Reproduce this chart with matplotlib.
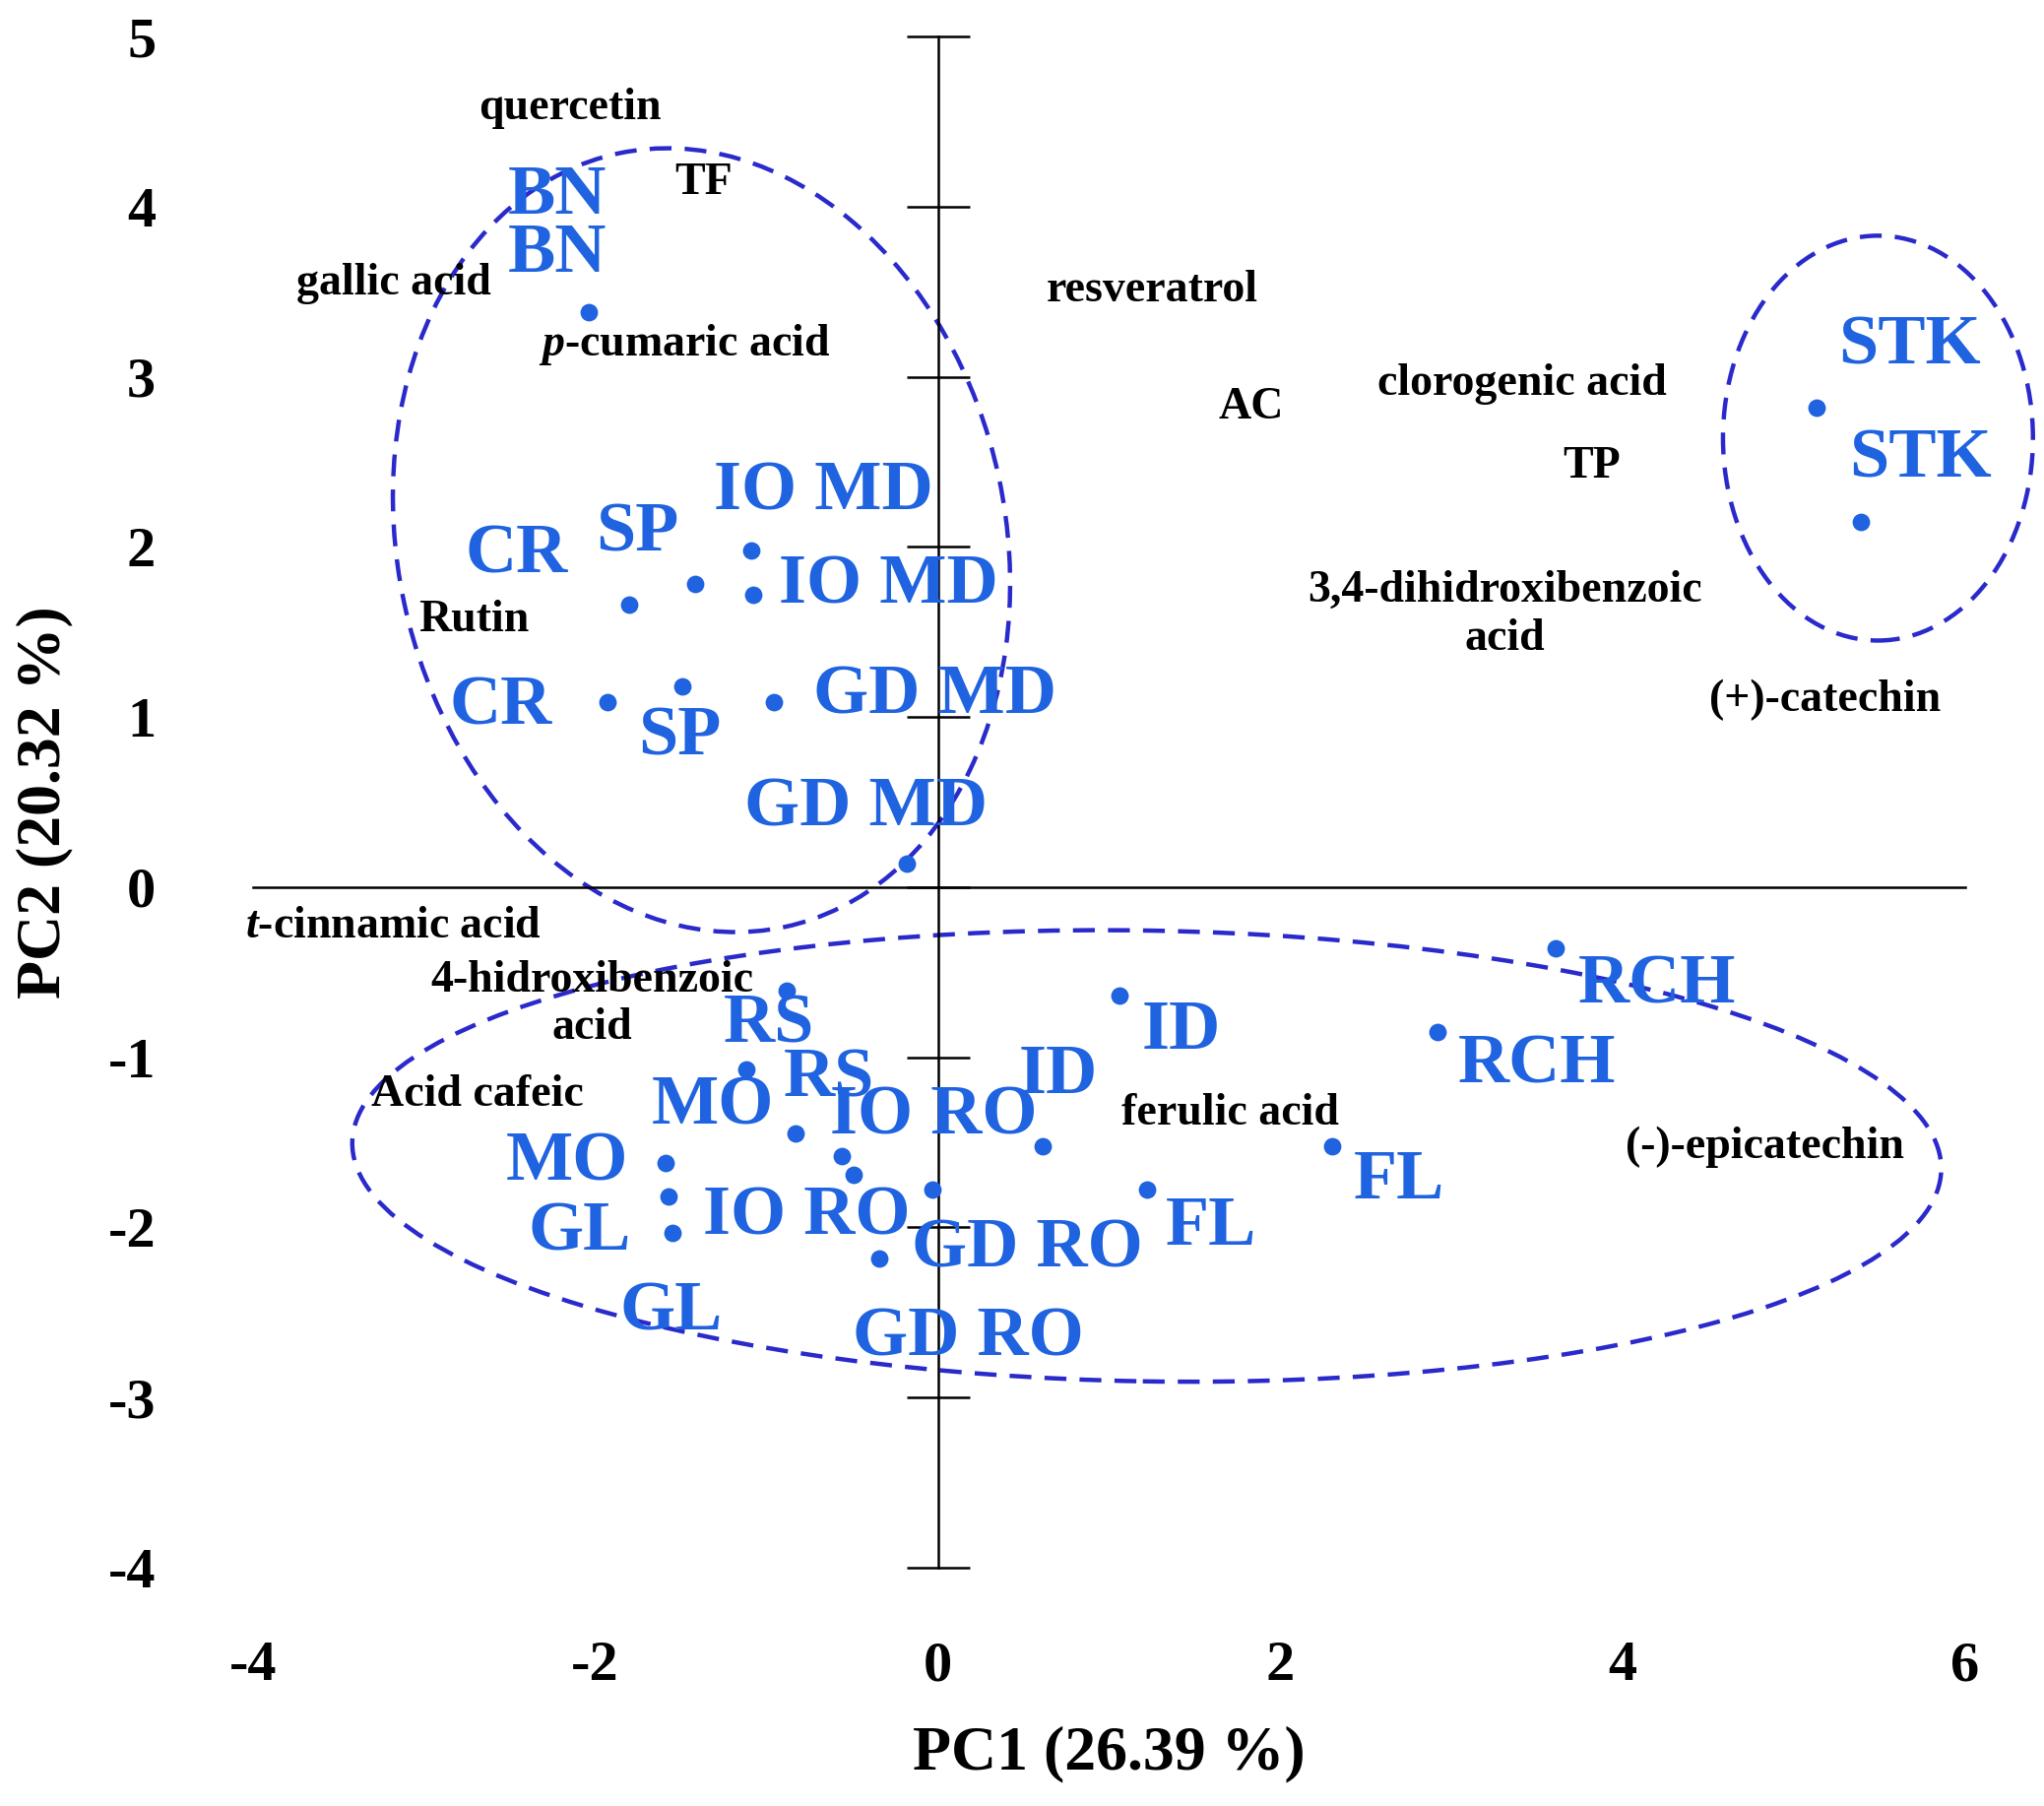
import matplotlib
matplotlib.use("Agg")
import matplotlib.pyplot as plt
from matplotlib.patches import Ellipse

plt.rcParams['font.family'] = ['Liberation Serif', 'DejaVu Serif']
plt.rcParams['font.weight'] = 'bold'
plt.rcParams['axes.unicode_minus'] = False
plt.rcParams['mathtext.fontset'] = 'custom'
plt.rcParams['mathtext.it'] = 'Liberation Serif:italic:bold'
plt.rcParams['mathtext.rm'] = 'Liberation Serif:bold'

# sample scores
pts_x = [-2.04, -1.80, -1.42, -1.09, -1.08, -1.93, -1.49, -0.96, -0.18, 5.13, 5.39,
         -0.88, -1.12, -0.83, -0.56, -0.49, -1.59, -1.57, -1.55, -0.34, -0.03, 0.61,
         1.06, 1.22, 2.30, 2.92, 3.61]
pts_y = [3.38, 1.66, 1.78, 1.98, 1.72, 1.09, 1.18, 1.09, 0.14, 2.82, 2.15,
         -0.61, -1.07, -1.45, -1.58, -1.69, -1.62, -1.82, -2.03, -2.18, -1.78, -1.52,
         -0.64, -1.78, -1.52, -0.85, -0.36]

# sample labels
s_lab = ['BN', 'BN', 'CR', 'SP', 'IO MD', 'IO MD', 'CR', 'SP', 'GD MD', 'GD MD', 'STK', 'STK',
         'RCH', 'RCH', 'RS', 'RS', 'MO', 'MO', 'IO RO', 'ID', 'ID', 'GL', 'IO RO', 'GD RO',
         'FL', 'FL', 'GL', 'GD RO']
s_x = [-2.51, -2.51, -2.76, -2.0, -1.31, -0.93, -2.85, -1.75, -0.73, -1.13, 5.26, 5.32,
       3.74, 3.04, -1.25, -0.90, -1.67, -2.52, -0.63, 1.19, 0.47, -2.39, -1.37, -0.15,
       2.43, 1.33, -1.86, -0.50]
s_y = [4.06, 3.72, 1.95, 2.08, 2.32, 1.77, 1.06, 0.88, 1.12, 0.46, 3.18, 2.51,
       -0.58, -1.05, -0.81, -1.13, -1.29, -1.62, -1.35, -0.85, -1.11, -2.03, -1.94, -2.13,
       -1.73, -2.0, -2.5, -2.65]

# variable labels
v_lab = ['quercetin', 'TF', 'gallic acid', '$p$-cumaric acid', 'resveratrol', 'AC',
         'clorogenic acid', 'TP', '3,4-dihidroxibenzoic\nacid', '(+)-catechin', 'Rutin',
         '$t$-cinnamic acid', '4-hidroxibenzoic\nacid', 'Acid cafeic', 'ferulic acid',
         '(-)-epicatechin']
v_x = [-2.15, -1.37, -3.18, -1.48, 1.25, 1.83, 3.41, 3.82, 3.31, 5.18, -2.71, -3.18,
       -2.02, -2.69, 1.71, 4.83]
v_y = [4.58, 4.14, 3.55, 3.19, 3.51, 2.82, 2.96, 2.47, 1.60, 1.10, 1.57, -0.23,
       -0.69, -1.22, -1.33, -1.53]

# ellipses: center x, center y, width, height, angle
e_cx = [-1.38, 5.49, 1.22]
e_cy = [2.04, 2.64, -1.58]
e_w = [3.55, 1.81, 9.28]
e_h = [4.65, 2.38, 2.65]
e_a = [12, 0, -1]

xticks = [-4, -2, 0, 2, 4, 6]
yticks = [-4, -3, -2, -1, 0, 1, 2, 3, 4, 5]

BLUE = '#1f63e0'
EBLUE = '#2a2acc'

fig = plt.figure(figsize=(20.76, 18.34), dpi=100)
ax = fig.add_axes([0.1237, 0.132, 0.9615 - 0.1237, 0.9797 - 0.132])
ax.set_xlim(-4, 6)
ax.set_ylim(-4, 5)

ax.spines['left'].set_visible(False)
ax.spines['bottom'].set_visible(False)
ax.spines['right'].set_position(('data', 0))
ax.spines['top'].set_position(('data', 0))
for s in ('right', 'top'):
    ax.spines[s].set_linewidth(1.8)
ax.set_xticks(xticks)
ax.set_yticks(yticks)
ax.tick_params(axis='y', left=False, right=True, labelleft=True, labelright=False,
               direction='inout', length=46, width=1.8, pad=48, labelsize=42)
ax.tick_params(axis='x', bottom=False, top=False, labelbottom=True, labeltop=False,
               pad=50, labelsize=42)
for t in ax.get_xticklabels() + ax.get_yticklabels():
    t.set_fontweight('bold')

ax.scatter(pts_x, pts_y, s=140, color=BLUE, zorder=3, clip_on=False)
for l, x, y in zip(s_lab, s_x, s_y):
    ax.text(x, y, l, color=BLUE, fontsize=52, fontweight='bold', ha='left', va='center', zorder=4)
for l, x, y in zip(v_lab, v_x, v_y):
    ax.text(x, y, l, color='black', fontsize=33, fontweight='bold', ha='center', va='center',
            multialignment='center', zorder=4)
for cx, cy, w, h, a in zip(e_cx, e_cy, e_w, e_h, e_a):
    ax.add_patch(Ellipse((cx, cy), w, h, angle=a, fill=False, edgecolor=EBLUE,
                         linestyle=(0, (5, 3)), linewidth=3.2, clip_on=False, zorder=2))

ax.set_xlabel('PC1 (26.39 %)', fontsize=46, fontweight='bold', labelpad=25)
ax.set_ylabel('PC2 (20.32 %)', fontsize=46, fontweight='bold', labelpad=25)

fig.savefig('out.png', dpi=100)
